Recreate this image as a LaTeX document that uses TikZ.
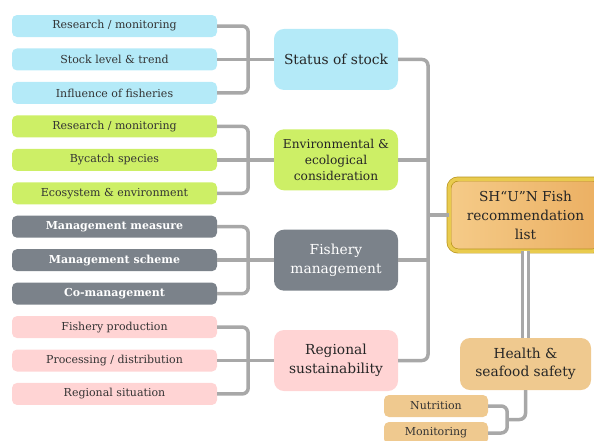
\documentclass[tikz,border=0pt]{standalone}
\usepackage{fontspec}
\setmainfont{DejaVu Serif}
\definecolor{stockblue}{HTML}{B4EAF8}
\definecolor{ecogreen}{HTML}{CDEF66}
\definecolor{mgmtgrey}{HTML}{7B828A}
\definecolor{regpink}{HTML}{FFD4D4}
\definecolor{healthtan}{HTML}{EFC98F}
\definecolor{linkgrey}{HTML}{A8A8A8}
\definecolor{goldrim}{HTML}{B8941E}
\definecolor{goldlight}{HTML}{E9CB4E}
\definecolor{woodlight}{HTML}{F5CB88}
\definecolor{wooddark}{HTML}{EBAF62}
\definecolor{inkgrey}{HTML}{333333}

\begin{document}
\begin{tikzpicture}[x=1pt,y=-1pt,
    leaf/.style={rounded corners=5pt,minimum width=205pt,minimum height=22pt,inner sep=0pt,
                 font=\fontsize{11}{13}\selectfont,text=inkgrey},
    topic/.style={rounded corners=10pt,minimum width=124pt,minimum height=61pt,inner sep=0pt,
                  align=center,font=\fontsize{13.8}{19}\selectfont,text=black!85},
    hub/.style={rounded corners=9pt,draw=goldrim,double=goldlight,double distance=3.5pt,line width=0.7pt,
                left color=woodlight,right color=wooddark,minimum width=153pt,minimum height=72pt,
                align=center,font=\fontsize{13.7}{19}\selectfont,text=black!85},
    link/.style={draw=linkgrey,line width=3.5pt,rounded corners=6pt},
    stock/.style={fill=stockblue},
    eco/.style={fill=ecogreen},
    mgmt/.style={fill=mgmtgrey,text=white},
    mleaf/.style={mgmt,font=\fontsize{11}{13}\selectfont\bfseries},
    reg/.style={fill=regpink},
    health/.style={fill=healthtan}]
  \useasboundingbox (0,0) rectangle (594,440);

  \foreach[count=\i,evaluate={26+(\i-1)*33.45} as \y] \t/\s in
      {{Research / monitoring}/stock,{Stock level \& trend}/stock,{Influence of fisheries}/stock,
       {Research / monitoring}/eco,{Bycatch species}/eco,{Ecosystem \& environment}/eco,
       {Management measure}/mleaf,{Management scheme}/mleaf,{Co-management}/mleaf,
       {Fishery production}/reg,{Processing / distribution}/reg,{Regional situation}/reg} {
    \node[leaf,\s] (l\i) at (114.5,\y) {\t};
  }

  \node[topic,stock] (m1) at (l2 -| 336,0) {Status of stock};
  \node[topic,eco,font=\fontsize{12.2}{16}\selectfont] (m2) at (l5 -| 336,0) {Environmental \&\\ecological\\consideration};
  \node[topic,mgmt] (m3) at (l8 -| 336,0) {Fishery\\management};
  \node[topic,reg] (m4) at (l11 -| 336,0) {Regional\\sustainability};

  \node[hub] (hub) at (525.5,215) {SH“U”N Fish\\recommendation\\list};
  \node[topic,health,minimum width=131pt,minimum height=52pt,font=\fontsize{13.8}{18}\selectfont] (hs) at (525.5,364) {Health \&\\seafood safety};
  \node[leaf,health,minimum width=104pt] (n1) at (436,406) {Nutrition};
  \node[leaf,health,minimum width=104pt] (n2) at (436,433) {Monitoring};

  \foreach \k/\a/\b/\c in {1/1/2/3,2/4/5/6,3/7/8/9,4/10/11/12} {
    \draw[link] (l\a.east) -- ++(31,0) |- (l\c.east);
    \draw[link] (l\b.east) -- (m\k.west);
  }

  \coordinate (spine) at (428,0);
  \draw[link] (m1.east) -| (spine |- m4) -- (m4.east);
  \draw[link] (m2.east) -- (spine |- m2);
  \draw[link] (m3.east) -- (spine |- m3);
  \draw[link] (spine |- hub) -- (hub.west);

  \draw[link,double=white,double distance=3.5pt,line width=3pt] (hub.south) -- (hs.north);

  \coordinate (fork) at (507,419.5);
  \draw[link] (n1.east) -- ++(19,0) |- (n2.east);
  \draw[link] (hs.south) |- (fork);
\end{tikzpicture}
\end{document}
